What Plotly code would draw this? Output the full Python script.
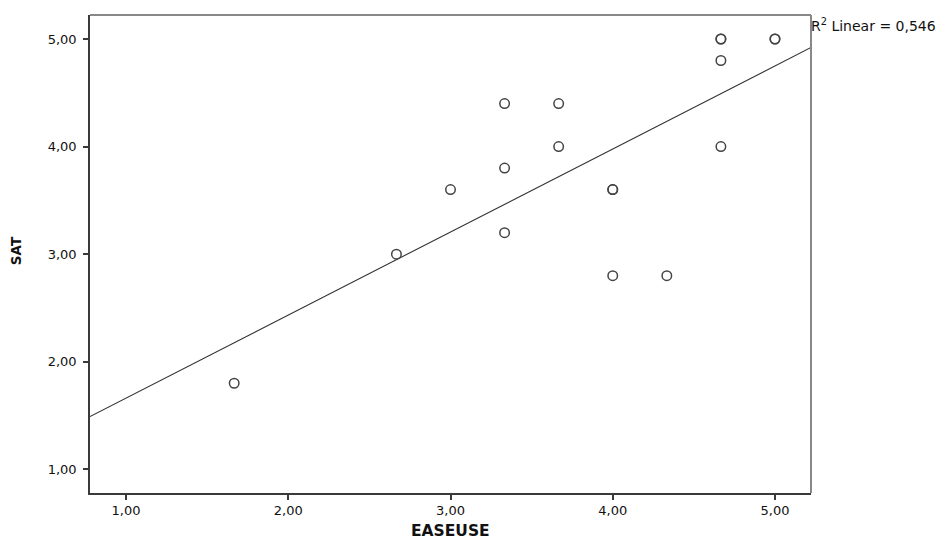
import numpy as np
import plotly.graph_objects as go

# Data (EASEUSE, SAT); duplicates included
easeuse = [5/3, 8/3, 3.0, 10/3, 10/3, 10/3, 11/3, 11/3, 4.0, 4.0, 4.0, 13/3,
           14/3, 14/3, 14/3, 14/3, 5.0, 5.0]
sat = [1.8, 3.0, 3.6, 4.4, 3.8, 3.2, 4.4, 4.0, 3.6, 3.6, 2.8, 2.8,
       5.0, 5.0, 4.8, 4.0, 5.0, 5.0]
tick_vals = [1, 2, 3, 4, 5]
tick_text = ["1,00", "2,00", "3,00", "4,00", "5,00"]
x_range = [0.778, 5.222]
y_range = [0.78, 5.223]

x = np.array(easeuse)
y = np.array(sat)
slope, intercept = np.polyfit(x, y, 1)
r2 = np.corrcoef(x, y)[0, 1] ** 2
r2_text = f"{r2:.3f}".replace(".", ",")

line_x = np.array(x_range)
line_y = intercept + slope * line_x

fig = go.Figure()
fig.add_trace(go.Scatter(
    x=line_x, y=line_y, mode="lines",
    line=dict(color="#333333", width=1.1), showlegend=False, hoverinfo="skip"))
fig.add_trace(go.Scatter(
    x=easeuse, y=sat, mode="markers",
    marker=dict(symbol="circle-open", size=9.5, color="#444444",
                line=dict(width=1.5, color="#444444")),
    showlegend=False))

font_family = "DejaVu Sans, Verdana, sans-serif"
axis_common = dict(
    showgrid=False, zeroline=False, showline=True, linecolor="#3a3a3a", linewidth=1.5,
    ticks="outside", ticklen=5, tickwidth=1.5, tickcolor="#3a3a3a",
    tickvals=tick_vals, ticktext=tick_text,
    tickfont=dict(family=font_family, size=13, color="#111111"),
    mirror=False,
)
fig.update_xaxes(range=x_range, **axis_common, ticklabelstandoff=0)
fig.update_yaxes(range=y_range, **axis_common, ticklabelstandoff=4)

# top and right frame lines (lighter)
fig.add_shape(type="line", xref="paper", yref="paper", x0=0, x1=1, y0=1, y1=1,
              line=dict(color="#888888", width=2))
fig.add_shape(type="line", xref="paper", yref="paper", x0=1, x1=1, y0=0, y1=1,
              line=dict(color="#888888", width=2))

# axis titles
fig.add_annotation(xref="paper", yref="paper", x=0.5, y=-0.079,
                   xanchor="center", yanchor="middle", showarrow=False,
                   text="<b>EASEUSE</b>",
                   font=dict(family=font_family, size=15.5, color="#111111"))
fig.add_annotation(xref="paper", yref="paper", x=-0.1026, y=0.506,
                   xanchor="center", yanchor="middle", showarrow=False,
                   textangle=-90, text="<b>SAT</b>",
                   font=dict(family=font_family, size=13.5, color="#111111"))

fig.add_annotation(xref="paper", yref="paper", x=1.0, y=1.0, xanchor="left", yanchor="top",
                   text=f"R<sup>2</sup> Linear = {r2_text}", showarrow=False,
                   font=dict(family=font_family, size=14, color="#111111"),
                   xshift=-2, yshift=1)

fig.update_layout(
    width=944, height=540,
    margin=dict(l=90, r=133, t=15, b=47),
    paper_bgcolor="white", plot_bgcolor="white",
)
fig.write_html("out.html")
